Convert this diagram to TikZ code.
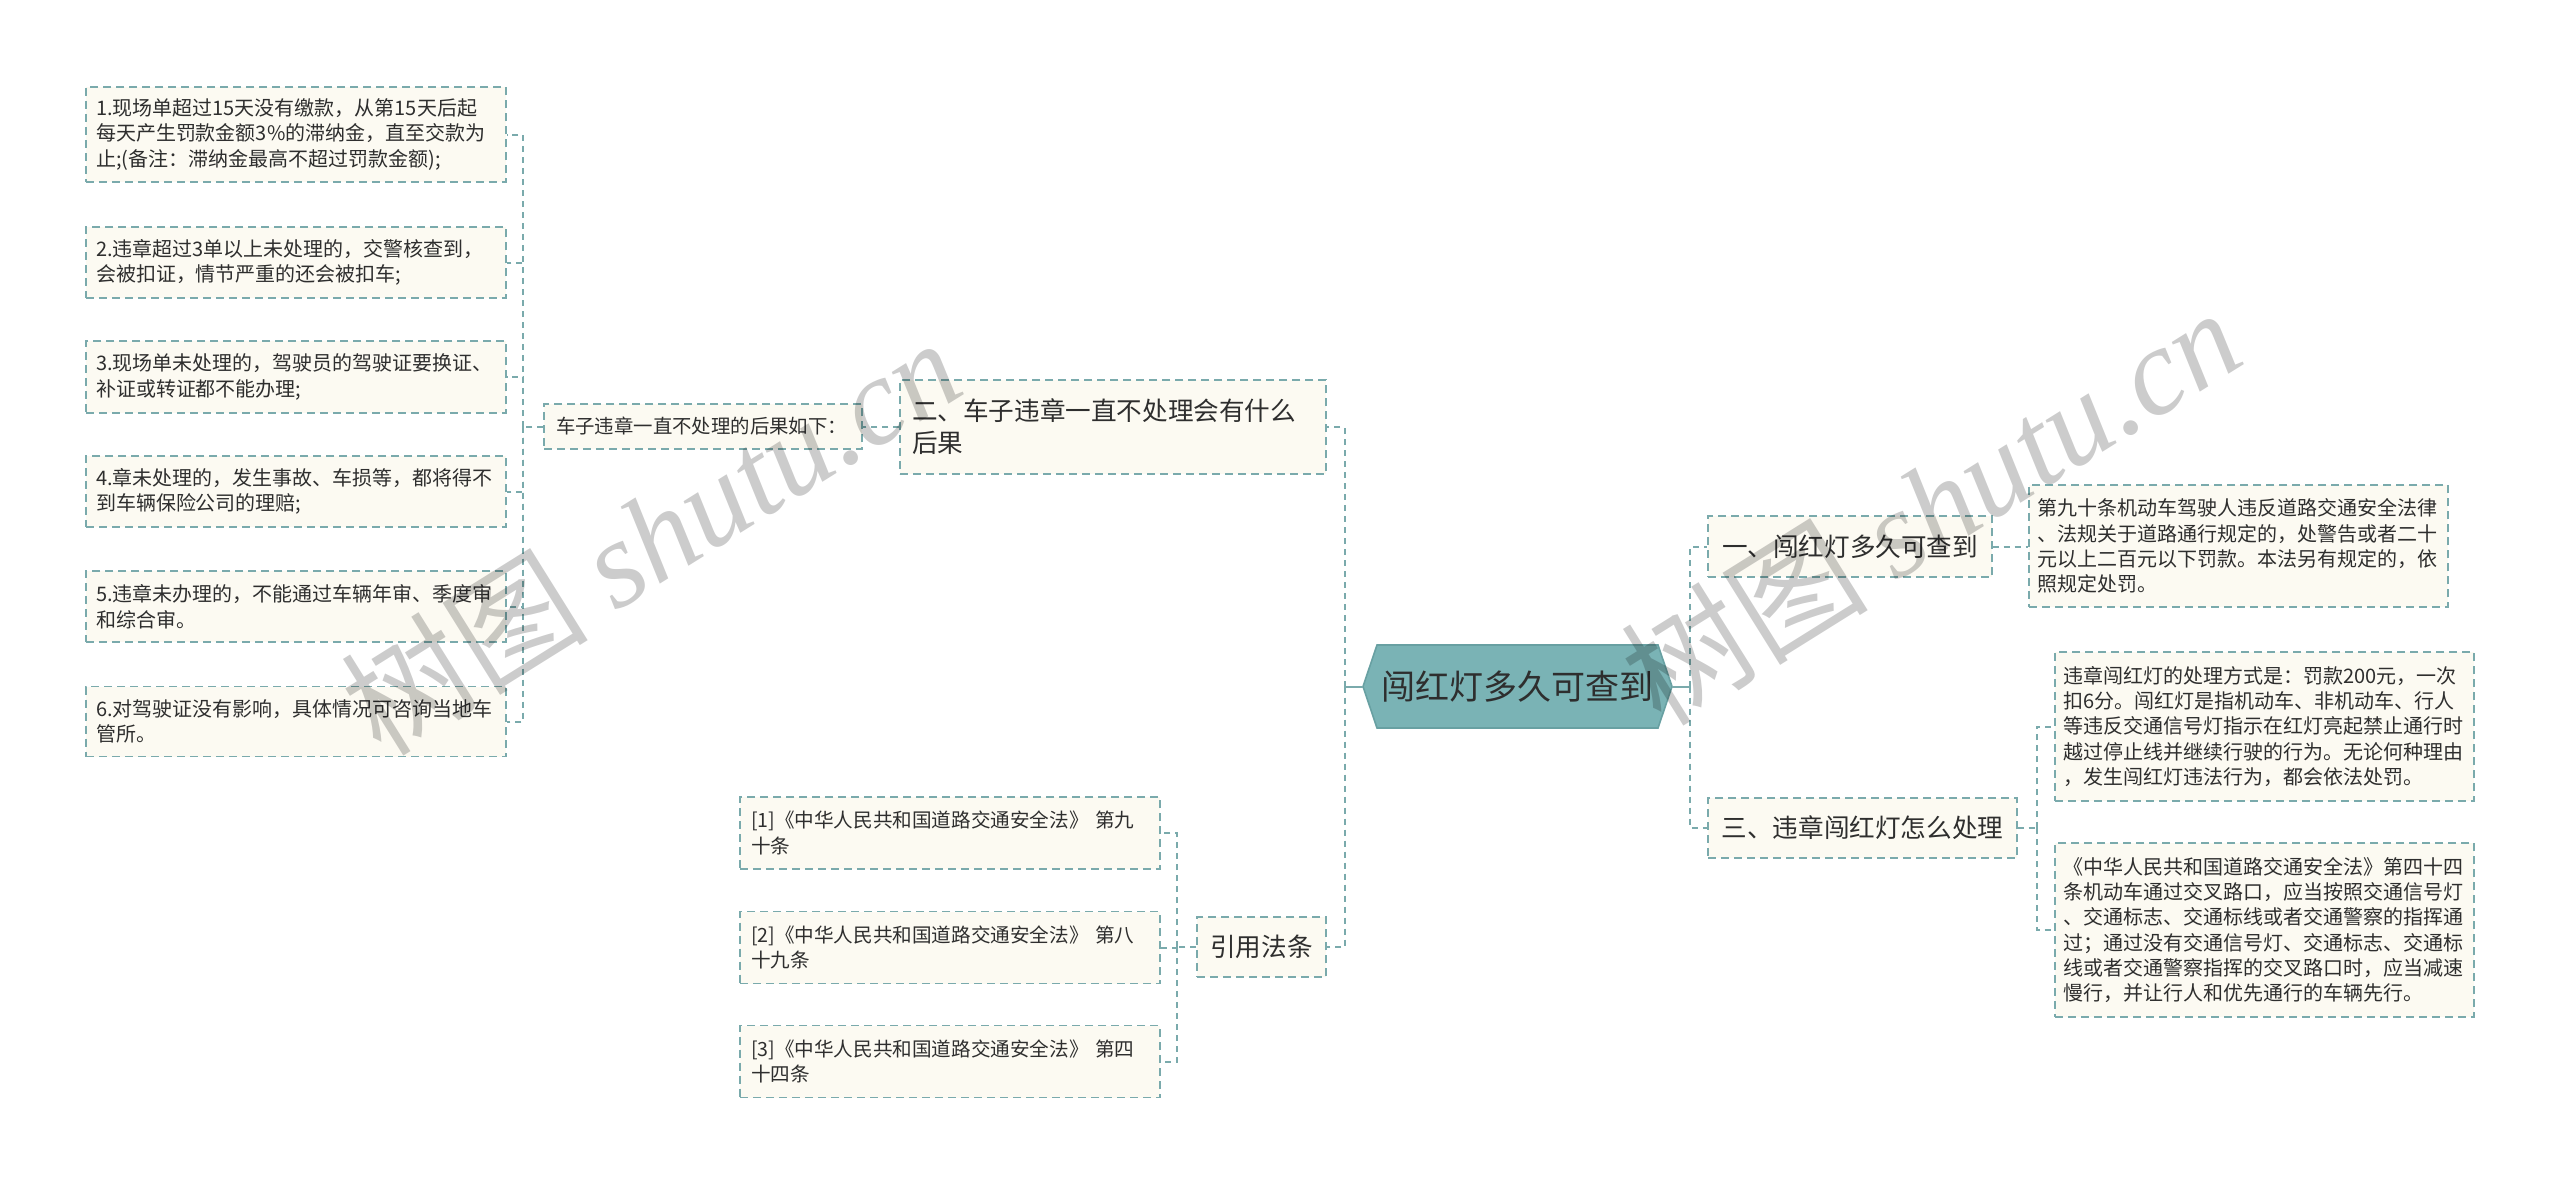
\documentclass[tikz,border=0pt]{standalone}
\usepackage{fontspec}
\setmainfont{Noto Sans CJK SC}
\newfontfamily\wmserif{Liberation Serif}
\usetikzlibrary{calc}
\definecolor{lc}{HTML}{7AAAAC}
\definecolor{bg}{HTML}{FCFAF2}
\definecolor{tc}{HTML}{2E2E2E}
\definecolor{rootfill}{HTML}{7AB3B5}
\definecolor{rootdraw}{HTML}{68A0A2}
\tikzset{
  box/.style={draw=lc, fill=bg, line width=0.7pt, dash pattern=on 4pt off 2.5pt, inner sep=0pt, text=tc, align=left},
  leaf/.style={box, font=\fontsize{10}{12.8}\selectfont, minimum width=210pt, text width=200pt},
  rleaf/.style={box, font=\fontsize{10}{12.6}\selectfont, minimum width=209.5pt, text width=201.5pt},
  cite/.style={box, font=\fontsize{9.8}{12.6}\selectfont, minimum width=210pt, text width=199pt, minimum height=36pt},
  branch/.style={box, font=\fontsize{12.8}{16}\selectfont},
  conn/.style={draw=lc, line width=1pt, dash pattern=on 3pt off 2.5pt},
  stub/.style={draw=lc, line width=1pt},
  wm/.style={text=black, text opacity=0.2, rotate=32, inner sep=0pt}
}
\begin{document}
\begin{tikzpicture}[x=0.5pt, y=-0.5pt]
\fill[white] (0,0) rectangle (2560,1183);
\useasboundingbox (0,0) rectangle (2560,1183);

% root
\coordinate (rc) at (1517.5,686.5);
\filldraw[fill=rootfill, draw=rootdraw, line width=0.8pt]
  ($(rc)+(-154.5,0)$) -- ($(rc)+(-140.5,-41.5)$) -- ($(rc)+(140.5,-41.5)$)
  -- ($(rc)+(154.5,0)$) -- ($(rc)+(140.5,41.5)$) -- ($(rc)+(-140.5,41.5)$) -- cycle;
\node[inner sep=0pt, minimum width=154.5pt, minimum height=41.5pt, text=tc,
      font=\fontsize{17}{20}\selectfont] (root) at (rc) {闯红灯多久可查到};

% right branches
\node[branch, minimum width=142pt, minimum height=30.5pt] (b1) at (1850,546.5) {一、闯红灯多久可查到};
\node[branch, minimum width=154.5pt, minimum height=30pt] (b3) at (1862.5,828) {三、违章闯红灯怎么处理};

\node[rleaf, minimum height=61pt] (r1) at (2238.5,546) {第九十条机动车驾驶人违反道路交通安全法律\\、法规关于道路通行规定的，处警告或者二十\\元以上二百元以下罚款。本法另有规定的，依\\照规定处罚。};
\node[rleaf, minimum height=74.5pt] (ra) at (2264.5,726.5) {违章闯红灯的处理方式是：罚款200元，一次\\扣6分。闯红灯是指机动车、非机动车、行人\\等违反交通信号灯指示在红灯亮起禁止通行时\\越过停止线并继续行驶的行为。无论何种理由\\，发生闯红灯违法行为，都会依法处罚。};
\node[rleaf, minimum height=87pt] (rb) at (2264.5,930) {《中华人民共和国道路交通安全法》第四十四\\条机动车通过交叉路口，应当按照交通信号灯\\、交通标志、交通标线或者交通警察的指挥通\\过；通过没有交通信号灯、交通标志、交通标\\线或者交通警察指挥的交叉路口时，应当减速\\慢行，并让行人和优先通行的车辆先行。};

% left branches
\node[branch, minimum width=213pt, minimum height=47pt, text width=201pt] (b2) at (1113,427) {二、车子违章一直不处理会有什么\\后果};
\node[branch, minimum width=64.5pt, minimum height=30pt] (b4) at (1261.5,947) {引用法条};

\node[box, font=\fontsize{9.7}{12}\selectfont, minimum width=159pt, minimum height=22.5pt, text width=147pt] (s2) at (703,426.5) {车子违章一直不处理的后果如下：};

\node[leaf, minimum height=47.5pt] (l1) at (296,134.5) {1.现场单超过15天没有缴款，从第15天后起\\每天产生罚款金额3\%的滞纳金，直至交款为\\止;(备注：滞纳金最高不超过罚款金额);};
\node[leaf, minimum height=35.5pt] (l2) at (296,262.5) {2.违章超过3单以上未处理的，交警核查到，\\会被扣证，情节严重的还会被扣车;};
\node[leaf, minimum height=36pt] (l3) at (296,377) {3.现场单未处理的，驾驶员的驾驶证要换证、\\补证或转证都不能办理;};
\node[leaf, minimum height=35.5pt] (l4) at (296,491.5) {4.章未处理的，发生事故、车损等，都将得不\\到车辆保险公司的理赔;};
\node[leaf, minimum height=35.5pt] (l5) at (296,606.5) {5.违章未办理的，不能通过车辆年审、季度审\\和综合审。};
\node[leaf, minimum height=35pt] (l6) at (296,721.5) {6.对驾驶证没有影响，具体情况可咨询当地车\\管所。};

\node[cite] (c1) at (950,833) {[1]《中华人民共和国道路交通安全法》~第九\\十条};
\node[cite] (c2) at (950,947.5) {[2]《中华人民共和国道路交通安全法》~第八\\十九条};
\node[cite] (c3) at (950,1061.5) {[3]《中华人民共和国道路交通安全法》~第四\\十四条};

% connectors
\draw[stub] (root.west) -- ++(-18,0) coordinate (lt);
\draw[conn] (lt) |- (b2.east);
\draw[conn] (lt) |- (b4.east);
\draw[stub] (root.east) -- ++(18,0) coordinate (rt);
\draw[conn] (rt) |- (b1.west);
\draw[conn] (rt) |- (b3.west);
\draw[conn] (b1.east) -- (b1.east -| r1.west);
\draw[conn] (b3.east) -- ++(19,0) coordinate (tb);
\draw[conn] (tb) |- (ra.west);
\draw[conn] (tb) |- (rb.west);
\draw[conn] (b2.west) -- (b2.west -| s2.east);
\draw[conn] (s2.west) -- ++(-20,0) coordinate (lb);
\foreach \n in {l1,l2,l3,l4,l5,l6} { \draw[conn] (lb) |- (\n.east); }
\draw[conn] (b4.west) -- ++(-19,0) coordinate (cb);
\foreach \n in {c1,c2,c3} { \draw[conn] (cb) |- (\n.east); }

% watermarks
\node[wm] (wm1) at (650,535) {\fontsize{62}{62}\selectfont 树图\hspace{14pt}{\wmserif\itshape shutu.cn}};
\node[wm] (wm2) at (1930,505) {\fontsize{62}{62}\selectfont 树图\hspace{14pt}{\wmserif\itshape shutu.cn}};
\end{tikzpicture}
\end{document}
